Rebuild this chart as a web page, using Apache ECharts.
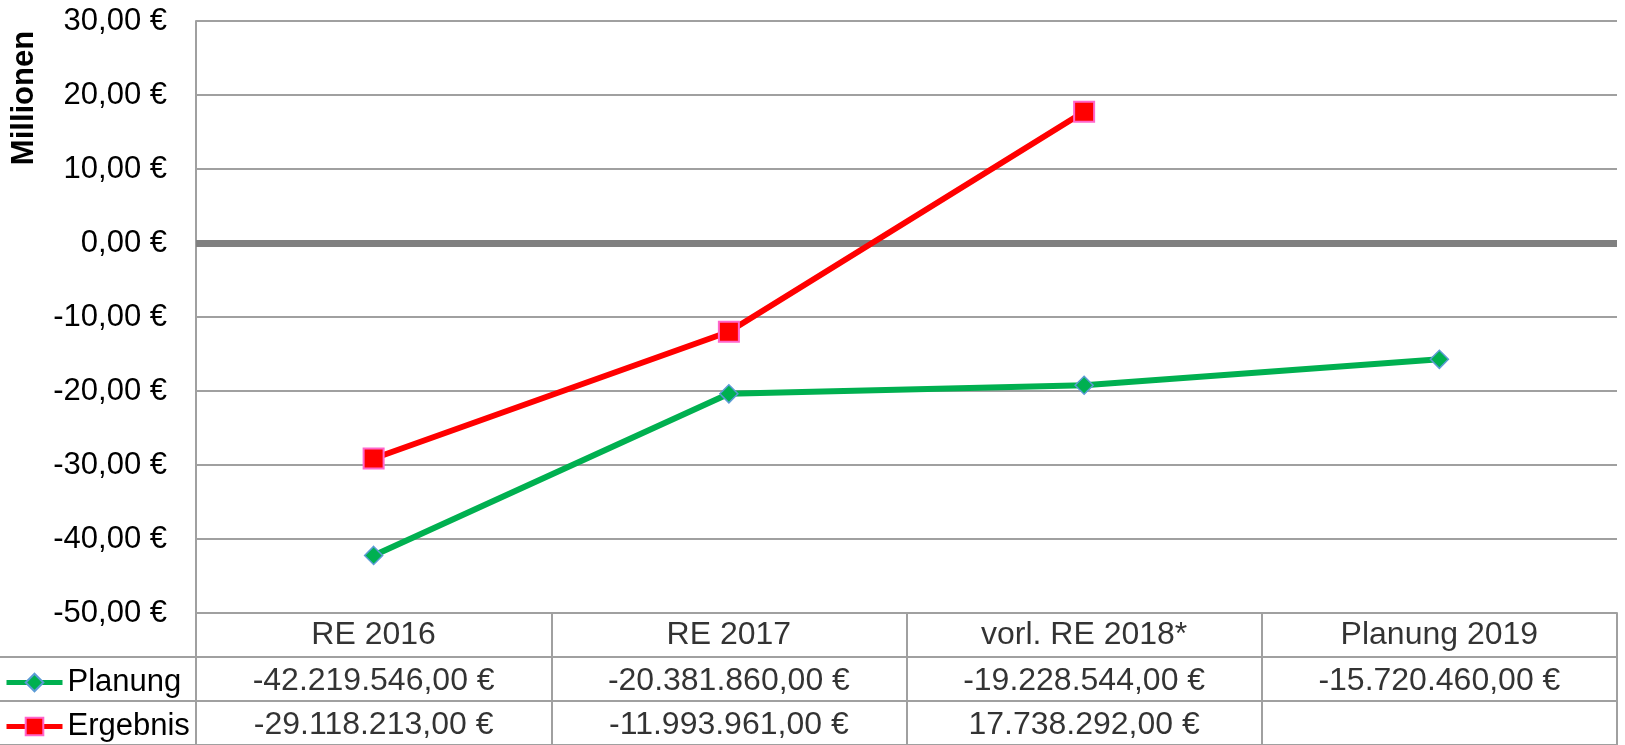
<!DOCTYPE html>
<html>
<head>
<meta charset="utf-8">
<script src="https://cdn.jsdelivr.net/npm/echarts@6/dist/echarts.min.js"></script>
<style>
html,body{margin:0;padding:0;background:#fff;}
#chart{width:1625px;height:745px;}
</style>
</head>
<body>
<div id="chart"></div>
<script>
const categories = ['RE 2016', 'RE 2017', 'vorl. RE 2018*', 'Planung 2019'];
const planung = [-42219546, -20381860, -19228544, -15720460];
const ergebnis = [-29118213, -11993961, 17738292, null];
const yTicks = { min: -50, max: 30, interval: 10 };
const seriesNames = ['Planung', 'Ergebnis'];
const axisTitle = 'Millionen';

const FONT = '"Liberation Sans", Arial, sans-serif';
const GRID_COLOR = '#a0a0a0';
const FS = 32;
const FS_AXIS = 31;

function fmtEuro(v) {
  if (v === null || v === undefined) return '';
  const s = Math.abs(v).toString().replace(/\B(?=(\d{3})+(?!\d))/g, '.');
  return (v < 0 ? '-' : '') + s + ',00 €';
}
function fmtTick(v) {
  return v.toFixed(2).replace('.', ',') + ' €';
}

const tableData = [];
categories.forEach((c, i) => {
  tableData.push({ value: [i, 2.5, c] });
  tableData.push({ value: [i, 1.5, fmtEuro(planung[i])], label: { offset: [0, 2] } });
  if (ergebnis[i] !== null) tableData.push({ value: [i, 0.5, fmtEuro(ergebnis[i])], label: { offset: [0, 2] } });
});

function legendFor(name, top) {
  return {
    data: [name],
    orient: 'vertical',
    left: 4,
    top: top,
    padding: 0,
    itemWidth: 56,
    itemHeight: 22,
    itemGap: 0,
    lineStyle: { width: 5 },
    textStyle: { fontSize: FS_AXIS, color: '#000', fontFamily: FONT }
  };
}

const chart = echarts.init(document.getElementById('chart'));
chart.setOption({
  animation: false,
  backgroundColor: '#fff',
  textStyle: { fontFamily: FONT },
  grid: [
    { left: 196, right: 8, top: 21, bottom: 132 },
    { left: 196, right: 8, top: 613, bottom: 0 },
    { left: 0, width: 196, top: 657, bottom: 0 }
  ],
  legend: [legendFor(seriesNames[0], 667), legendFor(seriesNames[1], 711)],
  xAxis: [
    {
      type: 'category', data: categories, gridIndex: 0, boundaryGap: true,
      axisLine: { show: true, onZero: true, lineStyle: { color: '#808080', width: 7, cap: 'butt' } },
      axisTick: { show: false }, axisLabel: { show: false }, splitLine: { show: false }
    },
    {
      type: 'category', data: categories, gridIndex: 1, boundaryGap: true,
      axisLine: { show: false }, axisTick: { show: false }, axisLabel: { show: false },
      splitLine: { show: true, interval: 0, lineStyle: { color: GRID_COLOR, width: 2 } }
    },
    {
      type: 'value', gridIndex: 2, min: 0, max: 1, show: false
    }
  ],
  yAxis: [
    {
      type: 'value', gridIndex: 0, min: yTicks.min, max: yTicks.max, interval: yTicks.interval,
      axisLine: { show: true, lineStyle: { color: GRID_COLOR, width: 2 } },
      axisTick: { show: false },
      axisLabel: { formatter: fmtTick, fontSize: FS_AXIS, color: '#000', margin: 29, fontFamily: FONT },
      splitLine: { show: true, lineStyle: { color: GRID_COLOR, width: 2 } }
    },
    {
      type: 'value', gridIndex: 1, min: 0, max: 3, interval: 1,
      axisLine: { show: true, lineStyle: { color: GRID_COLOR, width: 2 } },
      axisTick: { show: false }, axisLabel: { show: false },
      splitLine: { show: true, lineStyle: { color: GRID_COLOR, width: 2 } }
    },
    {
      type: 'value', gridIndex: 1, min: 0, max: 3, interval: 1, position: 'right',
      axisLine: { show: true, lineStyle: { color: GRID_COLOR, width: 2 } },
      axisTick: { show: false }, axisLabel: { show: false }, splitLine: { show: false }
    },
    {
      type: 'value', gridIndex: 2, min: 0, max: 2, interval: 1,
      axisLine: { show: false }, axisTick: { show: false }, axisLabel: { show: false },
      splitLine: { show: true, lineStyle: { color: GRID_COLOR, width: 2 } }
    }
  ],
  graphic: [{
    type: 'text',
    x: 24, y: 98,
    rotation: Math.PI / 2,
    style: {
      text: axisTitle,
      font: 'bold 31px ' + FONT,
      fill: '#000',
      align: 'center',
      verticalAlign: 'middle'
    }
  }],
  series: [
    {
      name: seriesNames[0], type: 'line', xAxisIndex: 0, yAxisIndex: 0,
      data: planung.map(v => v === null ? null : v / 1e6),
      symbol: 'diamond', symbolSize: 18, showAllSymbol: true,
      color: '#00b050',
      lineStyle: { color: '#00b050', width: 6 },
      itemStyle: { color: '#00b050', borderColor: '#5b9bd5', borderWidth: 1.5 },
      z: 3
    },
    {
      name: seriesNames[1], type: 'line', xAxisIndex: 0, yAxisIndex: 0,
      data: ergebnis.map(v => v === null ? null : v / 1e6),
      symbol: 'rect', symbolSize: 20, showAllSymbol: true,
      color: '#ff0000',
      lineStyle: { color: '#ff0000', width: 6 },
      itemStyle: { color: '#ff0000', borderColor: '#ff66cc', borderWidth: 2 },
      z: 4
    },
    {
      name: 'table', type: 'scatter', xAxisIndex: 1, yAxisIndex: 1,
      data: tableData, symbolSize: 0, silent: true,
      label: {
        show: true, position: 'inside',
        formatter: p => p.value[2],
        color: '#000', fontSize: FS, fontFamily: FONT
      }
    }
  ]
});
</script>
</body>
</html>
